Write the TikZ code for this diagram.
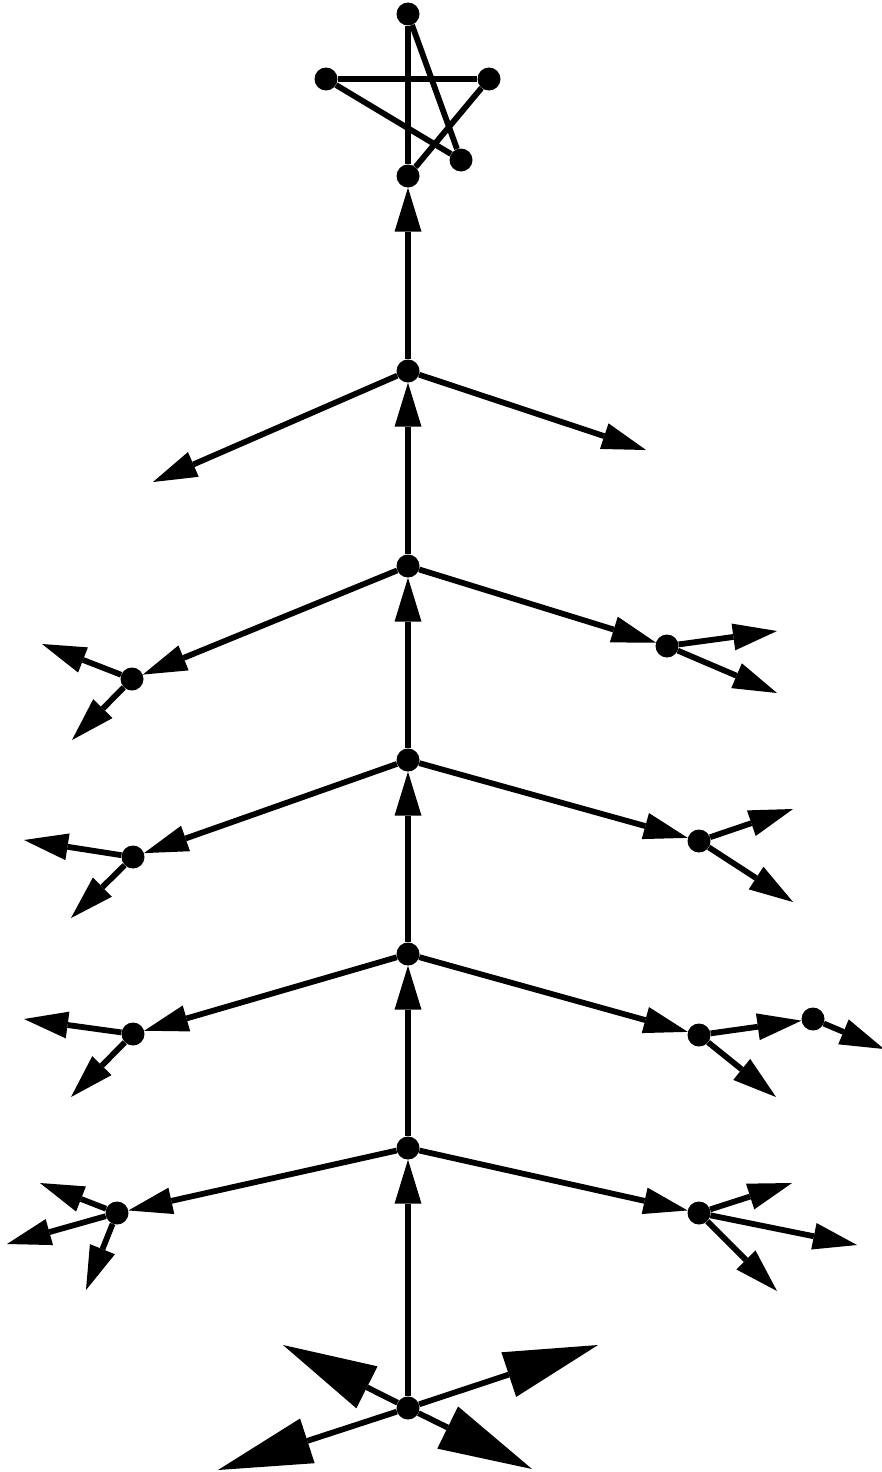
\documentclass[tikz,border=0pt]{standalone}
\usetikzlibrary{arrows.meta}
\begin{document}
\begin{tikzpicture}[x=1pt,y=-1pt,
  dot/.style={circle,fill=black,inner sep=0pt,minimum size=23pt},
  ln/.style={line width=5.8pt},
  ar/.style={ln,-{Triangle[length=44pt 0 0,width=27pt 0 0,line width=0pt]}},
  bigar/.style={ln,-{Triangle[length=94pt 0 0,width=47pt 0 0,line width=0pt]}}]
\useasboundingbox (0,0) rectangle (881,1472);
% spine
\node[dot] (s0) at (408,1408) {};
\node[dot] (s1) at (408,1148) {};
\node[dot] (s2) at (408,954) {};
\node[dot] (s3) at (408,760) {};
\node[dot] (s4) at (408,566) {};
\node[dot] (s5) at (408,371) {};
\node[dot] (s6) at (408,176) {};
% star
\node[dot] (t1) at (408,14) {};
\node[dot] (t2) at (326,79) {};
\node[dot] (t3) at (489,79) {};
\node[dot] (t4) at (461,160) {};
% branch nodes
\node[dot] (L4) at (132,679) {};
\node[dot] (R4) at (667,646) {};
\node[dot] (L3) at (133,857) {};
\node[dot] (R3) at (699,841) {};
\node[dot] (L2) at (133,1034) {};
\node[dot] (R2) at (699,1035) {};
\node[dot] (R2b) at (813,1019) {};
\node[dot] (L1) at (117,1213) {};
\node[dot] (R1) at (699,1213) {};
% free ends
\coordinate (a1) at (153,482);
\coordinate (a2) at (646,450);
\coordinate (b1) at (42,644);
\coordinate (b2) at (72,740);
\coordinate (c1) at (777,631);
\coordinate (c2) at (777,693);
\coordinate (d1) at (24,840);
\coordinate (d2) at (71,918);
\coordinate (e1) at (793,809);
\coordinate (e2) at (793,902);
\coordinate (f1) at (24,1019);
\coordinate (f2) at (71,1097);
\coordinate (g1) at (776,1097);
\coordinate (g2) at (884,1049);
\coordinate (h1) at (40,1183);
\coordinate (h2) at (7,1244);
\coordinate (h3) at (86,1290);
\coordinate (k1) at (792,1183);
\coordinate (k2) at (857,1245);
\coordinate (k3) at (777,1291);
\coordinate (m1) at (283,1345);
\coordinate (m2) at (598,1345);
\coordinate (m3) at (218,1470);
\coordinate (m4) at (532,1469);
% star edges
\draw[ln] (t1) -- (s6);
\draw[ln] (t1) -- (t4);
\draw[ln] (t2) -- (t3);
\draw[ln] (t2) -- (t4);
\draw[ln] (t3) -- (s6);
% spine arrows
\draw[ar] (s0) -- (s1);
\draw[ar] (s1) -- (s2);
\draw[ar] (s2) -- (s3);
\draw[ar] (s3) -- (s4);
\draw[ar] (s4) -- (s5);
\draw[ar] (s5) -- (s6);
% level s5
\draw[ar] (s5) -- (a1);
\draw[ar] (s5) -- (a2);
% level s4
\draw[ar] (s4) -- (L4);
\draw[ar] (s4) -- (R4);
\draw[ar] (L4) -- (b1);
\draw[ar] (L4) -- (b2);
\draw[ar] (R4) -- (c1);
\draw[ar] (R4) -- (c2);
% level s3
\draw[ar] (s3) -- (L3);
\draw[ar] (s3) -- (R3);
\draw[ar] (L3) -- (d1);
\draw[ar] (L3) -- (d2);
\draw[ar] (R3) -- (e1);
\draw[ar] (R3) -- (e2);
% level s2
\draw[ar] (s2) -- (L2);
\draw[ar] (s2) -- (R2);
\draw[ar] (L2) -- (f1);
\draw[ar] (L2) -- (f2);
\draw[ar] (R2) -- (R2b);
\draw[ar] (R2) -- (g1);
\draw[ar] (R2b) -- (g2);
% level s1
\draw[ar] (s1) -- (L1);
\draw[ar] (s1) -- (R1);
\draw[ar] (L1) -- (h1);
\draw[ar] (L1) -- (h2);
\draw[ar] (L1) -- (h3);
\draw[ar] (R1) -- (k1);
\draw[ar] (R1) -- (k2);
\draw[ar] (R1) -- (k3);
% bottom
\draw[bigar] (s0) -- (m1);
\draw[bigar] (s0) -- (m2);
\draw[bigar] (s0) -- (m3);
\draw[bigar] (s0) -- (m4);
\end{tikzpicture}
\end{document}
